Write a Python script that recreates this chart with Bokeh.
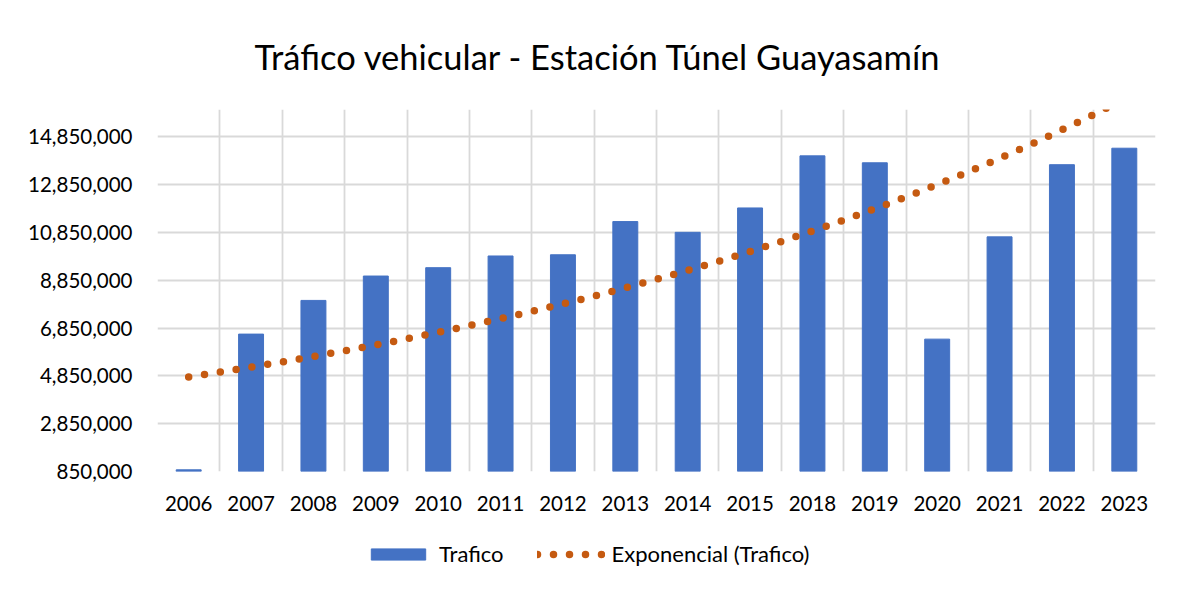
import numpy as np
from bokeh.plotting import figure
from bokeh.layouts import column
from bokeh.models import (Range1d, FixedTicker, NumeralTickFormatter, Legend,
                          LegendItem)
from bokeh.embed import file_html
from bokeh.resources import INLINE

# ---- data ----
years = ["2006", "2007", "2008", "2009", "2010", "2011", "2012", "2013",
         "2014", "2015", "2018", "2019", "2020", "2021", "2022", "2023"]
trafico = [920000, 6600000, 8010000, 9030000, 9380000, 9870000, 9920000,
           11310000, 10860000, 11880000, 14060000, 13770000, 6390000,
           10670000, 13690000, 14380000]
y_ticks = [850000, 2850000, 4850000, 6850000, 8850000, 10850000,
           12850000, 14850000]
y_max = 16000000

title_text = "Tráfico vehicular - Estación Túnel Guayasamín"
bar_label = "Trafico"
trend_label = "Exponencial (Trafico)"

FONT = "Lato"
BAR_COLOR = "#4472C4"
TREND_COLOR = "#C55A11"
GRID_COLOR = "#D9D9D9"
W = 1172

# ---- exponential trend (least squares on log values, like Excel) ----
idx = np.arange(1, len(years) + 1)
slope, intercept = np.polyfit(idx, np.log(trafico), 1)
xt = np.linspace(1, len(years), 600)
yt = np.exp(intercept + slope * xt)

p = figure(width=W, height=530,
           x_range=Range1d(0.5, len(years) + 0.5),
           y_range=Range1d(y_ticks[0], y_max),
           output_backend="svg", toolbar_location=None,
           min_border_left=157, min_border_right=17,
           min_border_top=106, min_border_bottom=59)
p.outline_line_color = None
p.background_fill_color = "white"
p.border_fill_color = "white"

# title
p.title.text = title_text
p.title.text_font = FONT
p.title.text_font_size = "34.5px"
p.title.text_font_style = "normal"
p.title.text_color = "#000000"
p.title.align = "left"
p.title.offset = 97
p.title.standoff = 66

# grids
p.xgrid.ticker = FixedTicker(ticks=[i + 0.5 for i in range(len(years) + 1)])
p.ygrid.ticker = FixedTicker(ticks=y_ticks)
for g in (p.xgrid, p.ygrid):
    g.grid_line_color = GRID_COLOR
    g.grid_line_width = 1.8

# axes
p.xaxis.ticker = FixedTicker(ticks=list(idx))
p.xaxis.major_label_overrides = {int(i): y for i, y in zip(idx, years)}
p.yaxis.ticker = FixedTicker(ticks=y_ticks)
p.yaxis.formatter = NumeralTickFormatter(format="0,0")
for ax in (p.xaxis, p.yaxis):
    ax.axis_line_color = None
    ax.major_tick_line_color = None
    ax.minor_tick_line_color = None
    ax.major_label_text_font = FONT
    ax.major_label_text_font_size = "20.5px"
    ax.major_label_text_color = "#000000"
p.yaxis.major_label_standoff = 19
p.xaxis.major_label_standoff = 18

bar_style = dict(width=0.4, fill_color=BAR_COLOR, line_color=BAR_COLOR)
trend_style = dict(line_color=TREND_COLOR, line_width=7.5,
                   line_dash="0 16", line_cap="round")

p.vbar(x=idx, top=trafico, bottom=y_ticks[0], **bar_style)
p.line(xt, yt, **trend_style)

# ---- legend strip below the chart (hidden copies serve as legend glyphs) ----
q = figure(width=W, height=56, x_range=Range1d(0.5, len(years) + 0.5),
           y_range=Range1d(0, 1),
           output_backend="svg", toolbar_location=None,
           x_axis_type=None, y_axis_type=None, min_border=0)
q.outline_line_color = None
q.xgrid.visible = False
q.ygrid.visible = False
q.border_fill_color = "white"
q.background_fill_color = "white"
lb = q.vbar(x=idx, top=trafico, bottom=y_ticks[0], visible=False, **bar_style)
lt = q.line(xt, yt, visible=False, **trend_style)
legend = Legend(items=[LegendItem(label=bar_label, renderers=[lb]),
                       LegendItem(label=trend_label, renderers=[lt])],
                orientation="horizontal", location=(207, 19),
                glyph_width=68, glyph_height=14, label_height=24,
                label_standoff=7, spacing=33, padding=4, margin=0,
                label_text_font=FONT, label_text_font_size="22px",
                label_text_color="#000000", inactive_fill_alpha=0,
                border_line_color=None, background_fill_alpha=0)
q.add_layout(legend)

layout = column(p, q, spacing=0)
open("out.html", "w").write(file_html(layout, INLINE))
